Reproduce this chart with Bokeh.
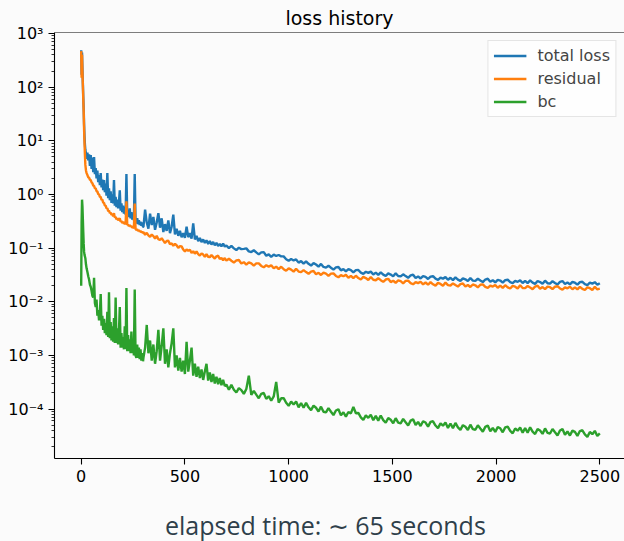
from bokeh.plotting import figure
from bokeh.models import Range1d, FixedTicker, CustomJSTickFormatter, Span, Div
from bokeh.layouts import column
from bokeh.embed import file_html
from bokeh.resources import INLINE

iters = ([0, 2, 4, 6, 8, 10, 12, 14, 16, 18, 20, 23, 26]
         + list(range(30, 299, 4))
         + list(range(300, 693, 8))
         + list(range(700, 2501, 12)))

total_loss = [
    # 0..26
    490, 170, 440, 220, 120, 66, 40, 20, 12, 8.5, 6.8, 5.8, 4.6,
    # 30..298 step 4
    6.0, 4.3, 5.6, 3.4, 5.4, 3.0, 4.9, 2.6, 5.0, 2.4,
    3.1, 2.0, 2.8, 1.7, 2.3, 1.5, 2.5, 1.35, 1.9, 1.2,
    1.85, 1.1, 1.6, 0.95, 2.5, 0.85, 1.3, 0.78, 1.15, 0.7,
    1.0, 0.68, 1.85, 0.62, 0.9, 0.58, 0.8, 0.55, 0.72, 1.2,
    0.5, 0.68, 0.47, 0.62, 0.44, 0.58, 0.42, 2.4, 0.4, 0.5,
    0.38, 0.55, 0.36, 0.47, 0.34, 0.44, 0.33, 2.4, 0.32, 0.29,
    0.36, 0.28, 0.33, 0.27, 0.31, 0.26, 0.3, 0.25,
    # 300..692 step 8
    0.25, 0.52, 0.3, 0.23, 0.44, 0.27, 0.38, 0.22, 0.3, 0.45,
    0.24, 0.36, 0.2, 0.28, 0.21, 0.33, 0.19, 0.25, 0.42, 0.18,
    0.23, 0.17, 0.21, 0.16, 0.19, 0.155, 0.25, 0.16, 0.19, 0.15,
    0.29, 0.145, 0.17, 0.135, 0.155, 0.13, 0.145, 0.125, 0.14, 0.12,
    0.135, 0.117, 0.13, 0.113, 0.125, 0.11, 0.12, 0.108, 0.122, 0.107,
    # 700..2500 step 12
    0.112, 0.100, 0.110, 0.099, 0.092, 0.102, 0.096, 0.097, 0.099, 0.087,
    0.0845, 0.0912, 0.0832, 0.0763, 0.0832, 0.0842, 0.0722, 0.0765, 0.0686, 0.0756,
    0.0714, 0.0745, 0.0704, 0.0701, 0.0621, 0.0581, 0.0628, 0.0589, 0.0615, 0.0537,
    0.0572, 0.0513, 0.0567, 0.051, 0.0474, 0.0525, 0.0495, 0.0451, 0.0508, 0.0446,
    0.0434, 0.0471, 0.0432, 0.0398, 0.0437, 0.0446, 0.0386, 0.0407, 0.0369, 0.0405,
    0.0388, 0.0353, 0.0389, 0.0391, 0.0349, 0.0331, 0.0363, 0.0345, 0.0365, 0.0323,
    0.035, 0.0317, 0.0354, 0.0321, 0.0302, 0.0338, 0.0322, 0.0298, 0.0339, 0.0303,
    0.0298, 0.0325, 0.0301, 0.028, 0.031, 0.0319, 0.0278, 0.0297, 0.0272, 0.0301,
    0.0291, 0.0266, 0.0295, 0.03, 0.027, 0.0257, 0.0283, 0.027, 0.0288, 0.0257,
    0.028, 0.0254, 0.0285, 0.0259, 0.0245, 0.0274, 0.0263, 0.0243, 0.0278, 0.0248,
    0.0245, 0.0269, 0.0249, 0.0233, 0.026, 0.0269, 0.0236, 0.0252, 0.0231, 0.0257,
    0.0249, 0.0228, 0.0254, 0.0258, 0.0233, 0.0223, 0.0246, 0.0236, 0.0251, 0.0224,
    0.0245, 0.0223, 0.025, 0.0228, 0.0216, 0.0244, 0.0233, 0.0216, 0.0247, 0.0222,
    0.0219, 0.0242, 0.0225, 0.021, 0.0235, 0.0243, 0.0214, 0.0228, 0.0211, 0.0234,
    0.0227, 0.0209, 0.0233, 0.0236, 0.0214, 0.0205, 0.0227, 0.0218, 0.0232, 0.0208,
    0.0222,
]

residual = [
    # 0..26
    470, 150, 400, 200, 110, 60, 35, 16, 9, 5.5, 3.6, 2.8, 2.5,
    # 30..298 step 4
    2.3, 2.1, 2.05, 1.88, 1.85, 1.68, 1.62, 1.47, 1.45, 1.3,
    1.3, 1.15, 1.14, 1.02, 1.0, 0.9, 0.9, 0.79, 0.8, 0.7,
    0.7, 0.62, 0.62, 0.55, 0.56, 0.49, 0.5, 0.45, 0.46, 0.42,
    0.43, 0.39, 0.45, 0.37, 0.38, 0.345, 0.36, 0.33, 0.345, 0.36,
    0.31, 0.32, 0.295, 0.31, 0.285, 0.295, 0.275, 0.75, 0.27, 0.275,
    0.258, 0.27, 0.25, 0.26, 0.24, 0.25, 0.232, 0.68, 0.228, 0.218,
    0.225, 0.21, 0.218, 0.203, 0.21, 0.197, 0.203, 0.19,
    # 300..692 step 8
    0.198, 0.177, 0.193, 0.173, 0.162, 0.179, 0.168, 0.151, 0.170, 0.147,
    0.142, 0.153, 0.138, 0.125, 0.136, 0.137, 0.118, 0.123, 0.111, 0.12,
    0.113, 0.101, 0.109, 0.108, 0.094, 0.0865, 0.0948, 0.0891, 0.0933, 0.0817,
    0.0874, 0.0789, 0.0867, 0.0774, 0.0725, 0.0798, 0.0758, 0.0686, 0.0775, 0.0691,
    0.0678, 0.0742, 0.0687, 0.064, 0.0705, 0.0721, 0.0625, 0.0659, 0.0596, 0.0653,
    # 700..2500 step 12
    0.0586, 0.0635, 0.0582, 0.0538, 0.059, 0.06, 0.0518, 0.0546, 0.0493, 0.0542,
    0.0518, 0.0471, 0.0519, 0.0521, 0.0466, 0.0439, 0.0479, 0.0453, 0.0478, 0.0422,
    0.0452, 0.0407, 0.045, 0.0406, 0.0379, 0.042, 0.0398, 0.0365, 0.0414, 0.0366,
    0.0358, 0.0389, 0.0358, 0.0332, 0.0366, 0.0376, 0.0327, 0.0347, 0.0316, 0.0348,
    0.0334, 0.0304, 0.0335, 0.0338, 0.0303, 0.0287, 0.0315, 0.0299, 0.0317, 0.028,
    0.0304, 0.0275, 0.0306, 0.0277, 0.026, 0.0291, 0.0277, 0.0255, 0.0289, 0.0257,
    0.0252, 0.0275, 0.0253, 0.0235, 0.026, 0.0268, 0.0233, 0.0247, 0.0226, 0.025,
    0.0242, 0.0221, 0.0245, 0.0248, 0.0223, 0.0212, 0.0233, 0.0223, 0.0236, 0.0211,
    0.0229, 0.0208, 0.0233, 0.0212, 0.02, 0.0225, 0.0215, 0.0199, 0.0228, 0.0204,
    0.0201, 0.022, 0.0205, 0.0192, 0.0213, 0.022, 0.0193, 0.0206, 0.0189, 0.021,
    0.0203, 0.0186, 0.0208, 0.0211, 0.019, 0.0182, 0.0201, 0.0192, 0.0206, 0.0183,
    0.02, 0.0181, 0.0204, 0.0186, 0.0177, 0.0198, 0.0191, 0.0177, 0.0203, 0.0181,
    0.018, 0.0197, 0.0184, 0.0172, 0.0192, 0.02, 0.0175, 0.0188, 0.0172, 0.0192,
    0.0187, 0.0172, 0.0191, 0.0195, 0.0177, 0.0168, 0.0186, 0.0178, 0.0191, 0.0171,
    0.0186, 0.017, 0.019, 0.0174, 0.0166, 0.0186, 0.0179, 0.0166, 0.019, 0.0171,
    0.0176,
]

bc = [
    # 0..26
    0.02, 0.3, 0.8, 0.6, 0.35, 0.2, 0.12, 0.085, 0.075, 0.07, 0.065, 0.05, 0.042,
    # 30..298 step 4
    0.036, 0.03, 0.026, 0.021, 0.019, 0.016, 0.013, 0.012, 0.028, 0.0095,
    0.008, 0.011, 0.0055, 0.007, 0.0045, 0.006, 0.014, 0.0036, 0.0055, 0.003,
    0.0048, 0.0026, 0.004, 0.0024, 0.0065, 0.0022, 0.015, 0.0021, 0.0042, 0.0019,
    0.0035, 0.0018, 0.005, 0.0017, 0.012, 0.0017, 0.0032, 0.0016, 0.0028, 0.008,
    0.0014, 0.0026, 0.0014, 0.0022, 0.0013, 0.0035, 0.0013, 0.018, 0.0012, 0.0024,
    0.0012, 0.002, 0.0011, 0.0028, 0.0011, 0.0019, 0.001, 0.017, 0.001, 0.0009,
    0.0016, 0.0009, 0.0014, 0.00085, 0.0013, 0.0008, 0.0011, 0.00078,
    # 300..692 step 8
    9.0e-4, 1.4e-3, 3.7e-3, 1.1e-3, 1.9e-3, 8.0e-4, 1.6e-3, 7.0e-4, 1.2e-3, 3.0e-3,
    8.0e-4, 1.5e-3, 3.2e-3, 7.0e-4, 1.3e-3, 6.0e-4, 1.1e-3, 1.7e-3, 3.2e-3, 6.0e-4,
    1.0e-3, 5.2e-4, 9.0e-4, 5.0e-4, 8.0e-4, 4.5e-4, 1.8e-3, 5.0e-4, 8.0e-4, 1.4e-3,
    4.2e-4, 7.0e-4, 4.0e-4, 6.2e-4, 3.8e-4, 5.5e-4, 3.5e-4, 5.0e-4, 7.0e-4, 3.4e-4,
    4.8e-4, 3.2e-4, 4.5e-4, 3.0e-4, 4.0e-4, 2.9e-4, 3.8e-4, 2.8e-4, 3.5e-4, 2.7e-4,
    # 700..2500 step 12
    2.86e-4, 2.30e-4, 2.83e-4, 2.30e-4, 2.04e-4, 2.46e-4, 2.26e-4, 1.92e-4, 2.37e-4, 4.20e-4,
    1.84e-4, 2.18e-4, 1.86e-4, 1.59e-4, 1.93e-4, 2.00e-4, 1.55e-4, 1.74e-4, 1.43e-4, 1.72e-4,
    3.20e-4, 1.32e-4, 1.59e-4, 1.60e-4, 1.31e-4, 1.15e-4, 1.38e-4, 1.22e-4, 1.38e-4, 1.08e-4,
    1.30e-4, 1.06e-4, 1.31e-4, 1.08e-4, 9.57e-5, 1.16e-4, 1.06e-4, 8.99e-5, 1.11e-4, 8.93e-5,
    8.65e-5, 1.04e-4, 8.92e-5, 7.74e-5, 9.42e-5, 9.92e-5, 7.65e-5, 8.74e-5, 7.22e-5, 8.83e-5,
    8.32e-5, 1.10e-4, 8.39e-5, 8.48e-5, 7.03e-5, 6.28e-5, 7.63e-5, 6.89e-5, 7.84e-5, 6.21e-5,
    7.48e-5, 6.10e-5, 7.59e-5, 6.24e-5, 5.57e-5, 6.80e-5, 6.32e-5, 5.43e-5, 6.78e-5, 5.59e-5,
    5.43e-5, 6.55e-5, 5.68e-5, 4.95e-5, 6.10e-5, 6.44e-5, 5.04e-5, 5.77e-5, 4.84e-5, 5.94e-5,
    5.62e-5, 4.71e-5, 5.78e-5, 5.93e-5, 4.94e-5, 4.43e-5, 5.41e-5, 4.90e-5, 5.60e-5, 4.46e-5,
    5.39e-5, 4.41e-5, 5.52e-5, 4.56e-5, 4.09e-5, 5.02e-5, 4.69e-5, 4.07e-5, 5.13e-5, 4.24e-5,
    4.12e-5, 4.98e-5, 4.33e-5, 3.78e-5, 4.67e-5, 4.94e-5, 3.87e-5, 4.45e-5, 3.75e-5, 4.62e-5,
    4.39e-5, 3.70e-5, 4.56e-5, 4.70e-5, 3.93e-5, 3.54e-5, 4.35e-5, 3.96e-5, 4.55e-5, 3.64e-5,
    4.42e-5, 3.64e-5, 4.58e-5, 3.80e-5, 3.43e-5, 4.23e-5, 3.98e-5, 3.45e-5, 4.36e-5, 3.61e-5,
    3.51e-5, 4.26e-5, 3.70e-5, 3.23e-5, 4.00e-5, 4.24e-5, 3.33e-5, 3.83e-5, 3.22e-5, 3.97e-5,
    3.76e-5, 3.17e-5, 3.90e-5, 4.03e-5, 3.38e-5, 3.04e-5, 3.74e-5, 3.41e-5, 3.93e-5, 3.15e-5,
    3.52e-5,
]

series_names = ["total loss", "residual", "bc"]
series_colors = ["#1f77b4", "#ff7f0e", "#2ca02c"]

x_ticks = [0, 500, 1000, 1500, 2000, 2500]
y_ticks = [1e-4, 1e-3, 1e-2, 1e-1, 1e0, 1e1, 1e2, 1e3]
y_tick_labels = ["10\u207b\u2074", "10\u207b\u00b3", "10\u207b\u00b2", "10\u207b\u00b9",
                 "10\u2070", "10\u00b9", "10\u00b2", "10\u00b3"]
y_minor = [k * 10.0 ** e for e in range(-5, 3) for k in range(2, 10)]

title_text = "loss history"
footer_text = "elapsed time: \u223c 65 seconds"

n = min(len(iters), len(total_loss), len(residual), len(bc))

BG = "#fbfbfb"
FONT = "DejaVu Sans"

p = figure(width=624, height=488, y_axis_type="log",
           x_range=Range1d(-128.7, 2619), y_range=Range1d(1.2e-5, 1045),
           output_backend="svg", toolbar_location=None, title=title_text,
           min_border_left=54, min_border_right=0, min_border_top=32,
           min_border_bottom=30, margin=0)
p.background_fill_color = BG
p.border_fill_color = BG
p.outline_line_color = None
p.xgrid.visible = False
p.ygrid.visible = False

p.title.align = "center"
p.title.text_font = FONT
p.title.text_font_size = "19px"
p.title.text_font_style = "normal"
p.title.text_color = "black"
p.title.standoff = 8

for vals, name, col in zip([total_loss, residual, bc], series_names, series_colors):
    p.line(iters[:n], vals[:n], line_color=col, line_width=2.4, legend_label=name)

p.xaxis.ticker = FixedTicker(ticks=x_ticks, minor_ticks=[])
p.yaxis.ticker = FixedTicker(ticks=y_ticks, minor_ticks=y_minor)
p.yaxis.formatter = CustomJSTickFormatter(
    args=dict(ytk=y_ticks, ylab=y_tick_labels),
    code="""
    for (let i = 0; i < ytk.length; i++) {
        if (Math.abs(Math.log10(tick) - Math.log10(ytk[i])) < 1e-6) return ylab[i];
    }
    return "";
    """)

for ax in (p.xaxis[0], p.yaxis[0]):
    ax.axis_line_color = "black"
    ax.axis_line_width = 1.1
    ax.major_tick_line_color = "black"
    ax.major_tick_line_width = 1.1
    ax.minor_tick_line_color = "black"
    ax.minor_tick_line_width = 0.8
    ax.major_tick_in = 0
    ax.major_tick_out = 6
    ax.minor_tick_in = 0
    ax.minor_tick_out = 3
    ax.major_label_text_font = FONT
    ax.major_label_text_font_size = "16px"
    ax.major_label_text_color = "black"
    ax.major_label_standoff = 5

top_spine = Span(location=1045, dimension="width", line_color="black", line_width=1.1)
p.add_layout(top_spine)

lg = p.legend[0]
lg.location = "top_right"
lg.margin = 8
lg.padding = 5
lg.spacing = 4
lg.glyph_width = 33
lg.glyph_height = 19
lg.label_height = 19
lg.label_standoff = 11
lg.label_text_font = FONT
lg.label_text_font_size = "16px"
lg.border_line_color = "#cccccc"
lg.border_line_width = 1
lg.background_fill_color = "white"
lg.background_fill_alpha = 0.8

footer = Div(
    text=('<div style="font-family:\'Open Sans\';font-size:25px;line-height:25px;'
          'color:#2f3f4a;padding-left:165px;padding-top:25px;white-space:nowrap;">'
          + footer_text + '</div>'),
    width=624, height=53, margin=0,
    styles={"background-color": BG})

layout = column(p, footer, spacing=0, margin=0, styles={"background-color": BG})

open("out.html", "w").write(file_html(layout, INLINE))
